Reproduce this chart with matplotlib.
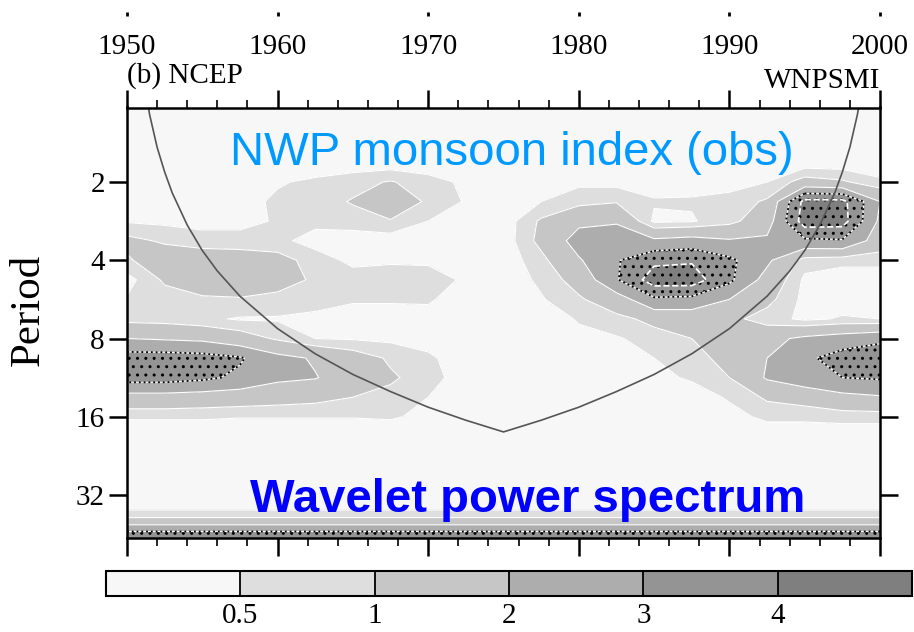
import numpy as np
import matplotlib
matplotlib.use("Agg")
import matplotlib.pyplot as plt
from matplotlib.ticker import FixedLocator, MultipleLocator, NullLocator, NullFormatter

plt.rcParams["hatch.color"] = "black"
plt.rcParams["hatch.linewidth"] = 1.0

# ---- data -------------------------------------------------------------
years = np.arange(1950, 2000.01, 2.5)                 # 21 columns
periods = 2.0 ** np.arange(0, 5.76, 0.25)            # 24 rows (years)

# wavelet power, rows = periods (short -> long), columns = years
power = np.array([
    [0.2] * 21,
    [0.2] * 21,
    [0.2] * 21,
    [0.2] * 21,
    [0.2, 0.2, 0.2, 0.2, 0.45, 0.6, 0.8, 1.05, 0.7, 0.4, 0.2, 0.3, 0.4, 0.35, 0.3, 0.35, 0.35, 0.5, 1.3, 1.1, 0.6],
    [0.2, 0.2, 0.2, 0.3, 0.6, 0.75, 1.05, 1.5, 0.9, 0.45, 0.25, 0.5, 0.8, 0.95, 0.55, 0.55, 0.65, 1.1, 4.3, 4.3, 2.0],
    [0.45, 0.4, 0.35, 0.35, 0.55, 0.6, 0.75, 0.95, 0.5, 0.3, 0.2, 1.1, 1.8, 1.9, 0.4, 0.45, 0.8, 1.5, 4.5, 4.4, 1.8],
    [1.2, 0.9, 0.7, 0.7, 0.6, 0.35, 0.2, 0.2, 0.2, 0.2, 0.2, 1.2, 2.4, 2.6, 2.2, 2.4, 2.1, 2.2, 2.8, 2.9, 1.5],
    [0.9, 1.5, 1.5, 1.4, 1.3, 0.7, 0.4, 0.45, 0.45, 0.2, 0.2, 0.8, 1.9, 2.9, 3.8, 3.9, 3.2, 2.2, 0.7, 0.6, 0.6],
    [0.3, 1.1, 1.4, 1.4, 1.3, 0.9, 0.7, 0.7, 0.65, 0.45, 0.2, 0.6, 1.3, 2.9, 4.5, 4.5, 3.2, 1.6, 0.4, 0.3, 0.3],
    [0.55, 0.7, 0.9, 0.95, 0.8, 0.65, 0.55, 0.55, 0.55, 0.3, 0.2, 0.45, 0.9, 1.5, 2.8, 2.7, 2.0, 1.2, 0.35, 0.3, 0.3],
    [0.8, 0.75, 0.6, 0.45, 0.45, 0.4, 0.3, 0.3, 0.35, 0.2, 0.2, 0.2, 0.55, 0.8, 1.2, 1.3, 1.2, 0.7, 0.4, 0.55, 0.5],
    [2.0, 1.9, 1.8, 1.4, 0.9, 0.5, 0.45, 0.4, 0.3, 0.2, 0.2, 0.2, 0.35, 0.45, 0.7, 1.0, 1.3, 1.7, 2.2, 2.5, 2.8],
    [3.5, 3.5, 3.4, 3.1, 2.3, 1.9, 1.4, 0.9, 0.6, 0.2, 0.2, 0.2, 0.2, 0.3, 0.5, 0.7, 1.3, 2.0, 2.8, 3.4, 3.6],
    [3.4, 3.4, 3.2, 2.8, 2.2, 2.05, 1.5, 1.1, 0.7, 0.25, 0.2, 0.2, 0.2, 0.2, 0.4, 0.55, 1.0, 2.1, 2.6, 3.0, 3.1],
    [1.6, 1.6, 1.5, 1.4, 1.3, 1.2, 1.0, 0.8, 0.5, 0.2, 0.2, 0.2, 0.2, 0.2, 0.2, 0.3, 0.55, 1.1, 1.3, 1.7, 1.9],
    [0.55, 0.55, 0.55, 0.52, 0.52, 0.52, 0.52, 0.55, 0.4, 0.2, 0.2, 0.2, 0.2, 0.2, 0.2, 0.2, 0.35, 0.6, 0.6, 0.65, 0.65],
    [0.2] * 21,
    [0.2] * 21,
    [0.2] * 21,
    [0.2] * 21,
    [0.6] * 21,
    [3.4] * 21,
    [3.4] * 21,
])

levels = [0, 0.5, 1, 2, 3, 4, 5]
level_colors = ["#f7f7f7", "#dedede", "#c6c6c6", "#adadad", "#949494", "#7f7f7f"]
signif_level = 3.0

# cone of influence (period, years)
coi_years = [1950.5, 1951, 1951.5, 1952, 1952.5, 1953, 1954, 1955, 1956, 1957.5,
             1960, 1962.5, 1965, 1967.5, 1970, 1972.5, 1975, 1977.5, 1980,
             1982.5, 1985, 1987.5, 1990, 1992.5, 1994, 1995, 1996, 1997,
             1997.5, 1998, 1998.5, 1999, 1999.5]
coi_period = [0.37, 0.73, 1.10, 1.47, 1.83, 2.20, 2.93, 3.67, 4.40, 5.50,
              7.33, 9.16, 11.0, 12.8, 14.7, 16.5, 18.3, 16.5, 14.7,
              12.8, 11.0, 9.16, 7.33, 5.50, 4.40, 3.67, 2.93, 2.20,
              1.83, 1.47, 1.10, 0.73, 0.37]

period_ticks = [2, 4, 8, 16, 32]
year_ticks = [1950, 1960, 1970, 1980, 1990, 2000]
cbar_ticks = [0.5, 1, 2, 3, 4]

# ---- figure -----------------------------------------------------------
W, H = 914, 632
fig = plt.figure(figsize=(W / 100, H / 100), dpi=100)
serif = "Liberation Serif"
sans = "Liberation Sans"


def fx(px):
    return px / W


def fy(py):
    return 1 - py / H


ax = fig.add_axes([fx(127), fy(537.5), fx(880) - fx(127), fy(107.5) - fy(537.5)])
ax.set_facecolor("#f7f7f7")

cf = ax.contourf(years, periods, power, levels=levels, colors=level_colors)
ax.contour(years, periods, power, levels=[0.5, 1, 2, 3], colors="white", linewidths=0.8)
ax.contourf(years, periods, power, levels=[signif_level, 10], colors="none", hatches=[".."])
ax.contour(years, periods, power, levels=[4], colors="white", linewidths=1.2, linestyles="--")
ax.contour(years, periods, power, levels=[signif_level], colors="black", linewidths=1.3,
           linestyles=":")

ax.plot(coi_years, coi_period, color="#555555", lw=1.2)

ax.set_yscale("log", base=2)
ax.set_xlim(1950, 2000)
ax.set_ylim(2 ** 5.543, 2 ** 0.048)

ax.xaxis.set_major_locator(FixedLocator(year_ticks))
ax.xaxis.set_minor_locator(MultipleLocator(2))
ax.yaxis.set_major_locator(FixedLocator(period_ticks))
ax.yaxis.set_minor_locator(NullLocator())
ax.set_yticklabels([str(p) for p in period_ticks])
ax.set_xticklabels([str(y) for y in year_ticks])

ax.tick_params(axis="x", which="major", direction="out", length=13, width=1.8,
               top=True, bottom=True, labeltop=True, labelbottom=False, pad=21,
               labelsize=21)
ax.tick_params(axis="x", which="minor", direction="out", length=5.5, width=1.2,
               top=True, bottom=True)
ax.tick_params(axis="y", which="major", direction="out", length=13, width=1.8,
               left=True, right=True, labelleft=True, labelright=False, pad=3,
               labelsize=21)
for lab in ax.get_xticklabels() + ax.get_yticklabels():
    lab.set_fontfamily(serif)
for sp in ax.spines.values():
    sp.set_linewidth(1.8)

# small marks above the year labels
sec = ax.secondary_xaxis((537.5 - 16) / 430)
sec.set_xticks(year_ticks)
sec.xaxis.set_major_formatter(NullFormatter())
sec.tick_params(axis="x", direction="out", length=3, width=2)
sec.spines["top"].set_visible(False)
sec.spines["bottom"].set_visible(False)

fig.text(fx(29), fy(310), "Period", rotation=90, ha="center", va="center",
         fontsize=31, fontfamily=serif)
fig.text(fx(127), fy(83), "(b) NCEP", ha="left", va="baseline",
         fontsize=21, fontfamily=serif)
fig.text(fx(880), fy(88), "WNPSMI", ha="right", va="baseline",
         fontsize=21, fontfamily=serif)

fig.text(fx(512), fy(165), "NWP monsoon index (obs)", ha="center", va="baseline",
         fontsize=34, fontfamily=sans, color="#0099ff")
fig.text(fx(528), fy(512), "Wavelet power spectrum", ha="center", va="baseline",
         fontsize=34, fontfamily=sans, fontweight="bold", color="#0000ff")

# colour bar
cax = fig.add_axes([fx(106), fy(596), fx(912) - fx(106), fy(571) - fy(596)])
cb = fig.colorbar(cf, cax=cax, orientation="horizontal", spacing="uniform",
                  ticks=cbar_ticks, drawedges=True)
cb.ax.set_xticklabels(["0.5", "1", "2", "3", "4"])
cb.ax.tick_params(length=0, pad=5, labelsize=21)
for lab in cb.ax.get_xticklabels():
    lab.set_fontfamily(serif)
cb.outline.set_linewidth(1.5)
cb.dividers.set_color("black")
cb.dividers.set_linewidth(1.3)

fig.savefig("out.png", dpi=100)
